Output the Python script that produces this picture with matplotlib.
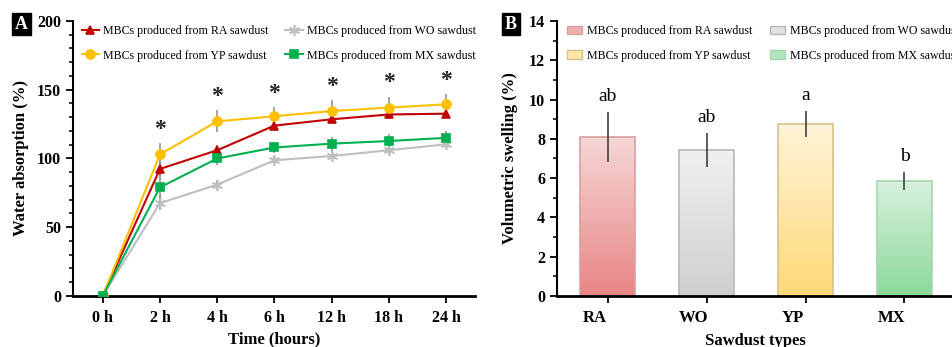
import numpy as np
import matplotlib
matplotlib.use("Agg")
import matplotlib.pyplot as plt
from matplotlib.colors import LinearSegmentedColormap, to_rgb
from matplotlib.patches import Patch

plt.rcParams['font.family'] = ['Liberation Serif', 'DejaVu Serif']

# ---------------- Data ----------------
time_labels = ["0 h", "2 h", "4 h", "6 h", "12 h", "18 h", "24 h"]
ra_wa = [0, 92.4, 106, 123.9, 128.5, 132, 132.6]
wo_wa = [0, 67.5, 81, 98.7, 101.8, 106, 110.3]
yp_wa = [0, 103, 127, 130.7, 134.5, 137, 139.4]
mx_wa = [0, 79, 100, 108, 110.8, 112.7, 115]
ra_err = [0, 5, 4, 3.5, 3, 3, 2.5]
wo_err = [0, 5, 3.5, 3, 2.5, 3, 3]
yp_err = [0, 8, 8, 6.5, 8, 8, 7.5]
mx_err = [0, 12, 5, 4, 5, 5, 5]
star_pos = [1, 2, 3, 4, 5, 6]

sawdust = ["RA", "WO", "YP", "MX"]
swelling = [8.08, 7.43, 8.76, 5.86]
swelling_err = [1.28, 0.87, 0.66, 0.45]
letters = ["ab", "ab", "a", "b"]

legend_labels = ["MBCs produced from RA sawdust", "MBCs produced from WO sawdust",
                 "MBCs produced from YP sawdust", "MBCs produced from MX sawdust"]

# ---------------- Figure ----------------
fig = plt.figure(figsize=(9.53, 3.47), dpi=100)
axA = fig.add_axes([0.0766, 0.147, 0.4214, 0.7925])
axB = fig.add_axes([0.5845, 0.147, 0.4155, 0.7925])

# ---- Panel A ----
x = np.arange(len(time_labels))
series = [
    (ra_wa, ra_err, '#c00000', '^', 6, legend_labels[0]),
    (wo_wa, wo_err, '#bfbfbf', (6, 2, 0), 8, legend_labels[1]),
    (yp_wa, yp_err, '#ffc000', 'o', 6.5, legend_labels[2]),
    (mx_wa, mx_err, '#00b050', 's', 6, legend_labels[3]),
]
handles = []
for vals, err, col, mk, ms, lab in series:
    axA.errorbar(x, vals, yerr=err, fmt='none', ecolor='#808080', elinewidth=1.2,
                 capsize=0, alpha=0.85, zorder=2)
for vals, err, col, mk, ms, lab in series:
    h, = axA.plot(x, vals, color=col, marker=mk, markersize=ms, lw=1.5,
                  markeredgecolor=col, markeredgewidth=1.2, label=lab, zorder=3)
    handles.append(h)

for i in star_pos:
    top = yp_wa[i] + yp_err[i]
    axA.text(x[i], top + 2.5, "*", ha='center', va='bottom', fontsize=17,
             fontweight='bold', color='#222222')

axA.set_xlim(-0.52, 6.5)
axA.set_ylim(0, 200)
axA.set_xticks(x)
axA.set_xticklabels(time_labels, fontsize=11.5, fontweight='bold')
axA.set_yticks([0, 50, 100, 150, 200])
axA.set_yticks(np.arange(0, 201, 10), minor=True)
axA.tick_params(axis='y', which='major', length=5, width=1.3, labelsize=11.5, direction='out')
axA.tick_params(axis='y', which='minor', length=3, width=1.1, direction='out')
axA.tick_params(axis='x', which='major', length=5, width=1.3, direction='out', pad=5)
for lab in axA.get_yticklabels():
    lab.set_fontweight('bold')
axA.spines['top'].set_visible(False)
axA.spines['right'].set_visible(False)
axA.spines['left'].set_linewidth(1.5)
axA.spines['bottom'].set_linewidth(2)
axA.set_xlabel("Time (hours)", fontsize=12, fontweight='bold', labelpad=4)
axA.set_ylabel("Water absorption (%)", fontsize=12, fontweight='bold', labelpad=6)
# column-major fill: order so that rows read RA, WO / YP, MX
order = [0, 2, 1, 3]
axA.legend(handles=[handles[k] for k in order], labels=[legend_labels[k] for k in order],
           ncol=2, loc='upper left', bbox_to_anchor=(0.022, 0.985), frameon=False,
           fontsize=8.6, handlelength=1.45, columnspacing=1.4, labelspacing=1.05,
           handletextpad=0.35, borderpad=0, borderaxespad=0)

# ---- Panel B ----
top_cols = ['#f6d6d6', '#f0f0f0', '#fff4d8', '#d9f1de']
bot_cols = ['#e88585', '#cfcfcf', '#ffd978', '#8cd99b']
edge_cols = ['#d9a0a0', '#b8b8b8', '#d9c08a', '#a8d4b0']
xb = np.arange(len(sawdust))
bars = axB.bar(xb, swelling, width=0.55, color='none', edgecolor=edge_cols,
               linewidth=1.2, zorder=2)
axB.set_xlim(-0.51, 3.49)
axB.set_ylim(0, 14)
for b, tc, bc in zip(bars, top_cols, bot_cols):
    cmap = LinearSegmentedColormap.from_list('g', [bc, tc])
    grad = np.linspace(0, 1, 256).reshape(-1, 1)
    x0, w, h = b.get_x(), b.get_width(), b.get_height()
    im = axB.imshow(grad, cmap=cmap, aspect='auto', origin='lower',
                    extent=(x0, x0 + w, 0, h), zorder=1)
    im.set_clip_path(b)
axB.errorbar(xb, swelling, yerr=swelling_err, fmt='none', ecolor='#404040',
             elinewidth=1.2, capsize=0, zorder=3)
for i, l in enumerate(letters):
    axB.text(xb[i], swelling[i] + swelling_err[i] + 0.35, l, ha='center', va='bottom',
             fontsize=14)
axB.set_xlim(-0.51, 3.49)
axB.set_ylim(0, 14)
# tick marks at bar centres, labels slightly left of them (as in the reference)
axB.set_xticks(xb, labels=[""] * len(sawdust))
axB.set_xticks(xb - 0.13, labels=sawdust, minor=True)
axB.tick_params(axis='x', which='minor', length=0, pad=10, labelsize=12)
for lab in axB.get_xticklabels(minor=True):
    lab.set_fontweight('bold')
axB.set_yticks(np.arange(0, 15, 2))
axB.set_yticks(np.arange(0, 15, 1), minor=True)
axB.tick_params(axis='y', which='major', length=5, width=1.3, labelsize=11.5, direction='out')
axB.tick_params(axis='y', which='minor', length=3, width=1.1, direction='out')
axB.tick_params(axis='x', which='major', length=5, width=1.3, direction='out')
for lab in axB.get_yticklabels():
    lab.set_fontweight('bold')
axB.spines['top'].set_visible(False)
axB.spines['right'].set_visible(False)
axB.spines['left'].set_linewidth(1.5)
axB.spines['bottom'].set_linewidth(2)
axB.set_xlabel("Sawdust types", fontsize=12, fontweight='bold', labelpad=5)
axB.set_ylabel("Volumetric swelling (%)", fontsize=12, fontweight='bold', labelpad=8)
patches = [Patch(facecolor=(np.array(to_rgb(t)) + np.array(to_rgb(b))) / 2,
                 edgecolor=e, linewidth=1.0)
           for t, b, e in zip(top_cols, bot_cols, edge_cols)]
axB.legend(handles=[patches[k] for k in order], labels=[legend_labels[k] for k in order],
           ncol=2, loc='upper left', bbox_to_anchor=(0.025, 0.985), frameon=False,
           fontsize=8.6, handlelength=1.27, handleheight=0.75, columnspacing=1.4,
           labelspacing=1.05, handletextpad=0.45, borderpad=0, borderaxespad=0)

# Panel labels
for px, letter in [(0.0225, "A"), (0.5360, "B")]:
    fig.text(px, 0.930, letter, ha='center', va='center', fontsize=13, fontweight='bold',
             color='white',
             bbox=dict(boxstyle='square,pad=0.15', facecolor='black', edgecolor='black'))

fig.savefig("out.png", dpi=100)
